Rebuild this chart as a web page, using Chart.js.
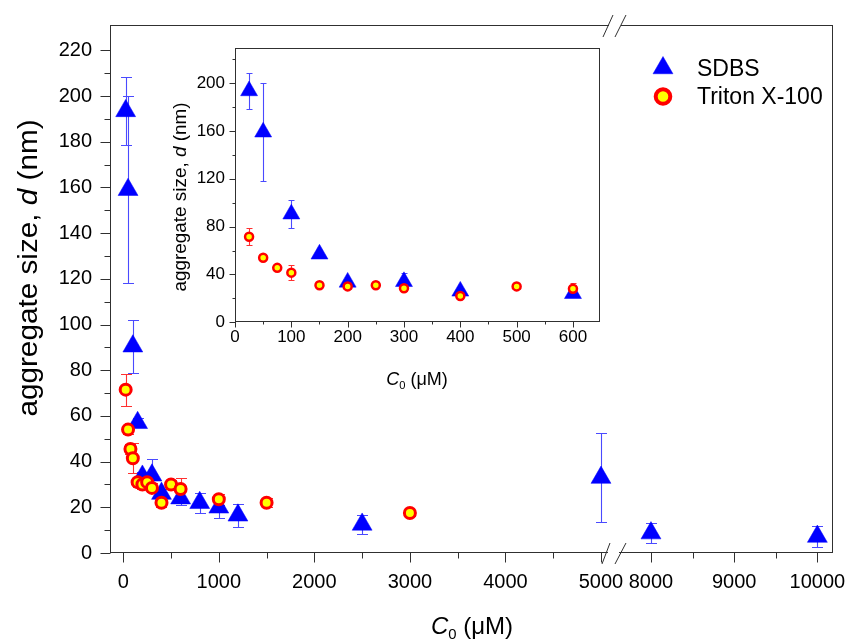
<!DOCTYPE html>
<html>
<head>
<meta charset="utf-8">
<script src="https://cdn.jsdelivr.net/npm/chart.js@4.4.0/dist/chart.umd.min.js"></script>
<style>
html,body{margin:0;padding:0;background:#fff;}
#wrap{position:relative;width:851px;height:642px;background:#fff;}
#wrap canvas{position:absolute;left:0;top:0;}
</style>
</head>
<body>
<div id="wrap">
<canvas id="mainChart" width="851" height="642"></canvas>
<canvas id="insetChart" width="851" height="642"></canvas>
</div>
<script>
// ---------------- data ----------------
const sdbsConc = [25, 50, 100, 150, 200, 300, 400, 600, 800, 1000, 1200, 2500, 5000, 8000, 10000];
const sdbsSize = [193.5, 159, 90.5, 57, 33.5, 34, 26, 24, 22, 20, 16.5, 12.5, 33, 8.7, 7.2];
const sdbsErr  = [15, 41, 11.5, 2, 2, 7, 2, 3, 4.4, 4.5, 5, 4, 19.5, 4.4, 4.5];

const tritonConc = [25, 50, 75, 100, 150, 200, 250, 300, 400, 500, 600, 1000, 1500, 3000];
const tritonSize = [71.5, 54, 45.5, 41.5, 31, 30, 31, 28.5, 22, 30, 28, 23.5, 22, 17.5];
const tritonErr  = [7, 2, 2, 6.5, 2, 2, 1.5, 2, 2, 2, 5, 2.5, 2, 1.5];

const seriesNames = ['SDBS', 'Triton X-100'];

const mainXTicks = [0, 1000, 2000, 3000, 4000, 5000, 8000, 9000, 10000];
const mainXMinor = [500, 1500, 2500, 3500, 4500, 8500, 9500];
const mainYTicks = [0, 20, 40, 60, 80, 100, 120, 140, 160, 180, 200, 220];
const mainYMinor = [10, 30, 50, 70, 90, 110, 130, 150, 170, 190, 210];

const insetXTicks = [0, 100, 200, 300, 400, 500, 600];
const insetXMinor = [50, 150, 250, 350, 450, 550];
const insetYTicks = [0, 40, 80, 120, 160, 200];
const insetYMinor = [20, 60, 100, 140, 180, 220];
const insetMaxConc = 600;

const yTitleParts = [{text: 'aggregate size, '}, {text: 'd', italic: true}, {text: ' (nm)'}];
const xTitleParts = [{text: 'C', italic: true}, {text: '0', scale: 0.62, dy: 0.22}, {text: ' (\u03bcM)'}];

// ---------------- broken x scale ----------------
// piecewise mapping: [value range] -> [fraction of axis width]
const X_SEGMENTS = [
  {d0: -139, d1: 5000, r0: 0, r1: 0.6791},
  {d0: 5000, d1: 7700, r0: 0.6791, r1: 0.7137},
  {d0: 7700, d1: 10188, r0: 0.7137, r1: 1}
];
class BrokenLinearScale extends Chart.LinearScale {
  getPixelForValue(value) {
    if (value === null || value === undefined || isNaN(value)) return NaN;
    let seg = X_SEGMENTS[0];
    for (const s of X_SEGMENTS) { if (value >= s.d0) seg = s; }
    const f = seg.r0 + (value - seg.d0) / (seg.d1 - seg.d0) * (seg.r1 - seg.r0);
    return this.getPixelForDecimal(f);
  }
  getValueForPixel(pixel) {
    const f = this.getDecimalForPixel(pixel);
    let seg = X_SEGMENTS[0];
    for (const s of X_SEGMENTS) { if (f >= s.r0) seg = s; }
    return seg.d0 + (f - seg.r0) / (seg.r1 - seg.r0) * (seg.d1 - seg.d0);
  }
}
BrokenLinearScale.id = 'brokenLinear';
BrokenLinearScale.defaults = Chart.LinearScale.defaults;
Chart.register(BrokenLinearScale);

// ---------------- helpers ----------------
const FONT = '"Liberation Sans", Arial, Helvetica, sans-serif';
const AXIS_COLOR = '#303030';

function drawRichText(ctx, parts, cx, cy, rotate, size, stretch) {
  ctx.save();
  ctx.translate(cx, cy);
  if (rotate) ctx.rotate(-Math.PI / 2);
  if (stretch) ctx.scale(stretch, 1);
  let total = 0;
  const meas = parts.map(p => {
    const s = size * (p.scale || 1);
    const f = (p.italic ? 'italic ' : '') + s + 'px ' + FONT;
    ctx.font = f;
    const w = ctx.measureText(p.text).width;
    total += w;
    return {f, w};
  });
  let x = -total / 2;
  ctx.textAlign = 'left';
  ctx.textBaseline = 'alphabetic';
  ctx.fillStyle = '#000';
  const base = size * 0.358;
  parts.forEach((p, i) => {
    ctx.font = meas[i].f;
    ctx.fillText(p.text, x, base + (p.dy || 0) * size);
    x += meas[i].w;
  });
  ctx.restore();
}

function drawErrorBars(chart, capHalf) {
  const {ctx, scales: {x, y}} = chart;
  ctx.save();
  chart.data.datasets.forEach(ds => {
    if (!ds.errorBars) return;
    ctx.strokeStyle = ds.errorColor;
    ctx.lineWidth = 1.1;
    ds.data.forEach((pt, i) => {
      const e = ds.errorBars[i];
      const px = Math.round(x.getPixelForValue(pt.x)) + 0.5;
      const yt = Math.round(y.getPixelForValue(pt.y + e)) + 0.5;
      const yb = Math.round(y.getPixelForValue(pt.y - e)) + 0.5;
      ctx.beginPath();
      ctx.moveTo(px, yt); ctx.lineTo(px, yb);
      ctx.moveTo(px - capHalf, yt); ctx.lineTo(px + capHalf, yt);
      ctx.moveTo(px - capHalf, yb); ctx.lineTo(px + capHalf, yb);
      ctx.stroke();
    });
  });
  ctx.restore();
}

function makeDecor(cfg) {
  return {
    id: 'decor',
    beforeDatasetsDraw(chart) { drawErrorBars(chart, cfg.capHalf); },
    afterDraw(chart) {
      const {ctx, chartArea: a, scales: {x, y}} = chart;
      const L = Math.round(a.left) + 0.5, R = Math.round(a.right) - 0.5;
      const T = Math.round(a.top) + 0.5, B = Math.round(a.bottom) - 0.5;
      ctx.save();
      ctx.strokeStyle = AXIS_COLOR;
      ctx.lineWidth = 1;
      ctx.strokeRect(L, T, R - L, B - T);
      ctx.beginPath();
      cfg.xMajor.forEach(v => { const p = Math.round(x.getPixelForValue(v)) + 0.5; ctx.moveTo(p, B); ctx.lineTo(p, B + cfg.majorLen); });
      cfg.xMinor.forEach(v => { const p = Math.round(x.getPixelForValue(v)) + 0.5; ctx.moveTo(p, B); ctx.lineTo(p, B + cfg.minorLen); });
      cfg.yMajor.forEach(v => { const p = Math.round(y.getPixelForValue(v)) + 0.5; ctx.moveTo(L, p); ctx.lineTo(L - cfg.majorLen, p); });
      cfg.yMinor.forEach(v => { const p = Math.round(y.getPixelForValue(v)) + 0.5; ctx.moveTo(L, p); ctx.lineTo(L - cfg.minorLen, p); });
      ctx.stroke();
      ctx.restore();
      if (cfg.extra) cfg.extra(chart);
      drawRichText(ctx, yTitleParts, cfg.yTitle.x, cfg.yTitle.y, true, cfg.yTitle.size, cfg.yTitle.stretch);
      drawRichText(ctx, xTitleParts, cfg.xTitle.x, cfg.xTitle.y, false, cfg.xTitle.size, cfg.xTitle.stretch);
    }
  };
}

function buildDatasets(maxConc, triR, circR, circBW) {
  const sd = [], se = [], td = [], te = [];
  sdbsConc.forEach((c, i) => { if (c <= maxConc) { sd.push({x: c, y: sdbsSize[i]}); se.push(sdbsErr[i]); } });
  tritonConc.forEach((c, i) => { if (c <= maxConc) { td.push({x: c, y: tritonSize[i]}); te.push(tritonErr[i]); } });
  return [
    {label: seriesNames[0], data: sd, errorBars: se, errorColor: '#4a4aff',
     pointStyle: 'triangle', pointRadius: triR, pointHoverRadius: triR,
     backgroundColor: '#0000ff', borderColor: '#0000ff', borderWidth: 0.5,
     showLine: false, order: 1, clip: false},
    {label: seriesNames[1], data: td, errorBars: te, errorColor: '#ff3030',
     pointStyle: 'circle', pointRadius: circR, pointHoverRadius: circR,
     backgroundColor: '#ffff00', borderColor: '#ff0000', borderWidth: circBW,
     showLine: false, order: 0, clip: false}
  ];
}

function tickSetter(values) { return s => { s.ticks = values.map(v => ({value: v})); }; }
function fitter(prop, size) {
  return s => { s[prop] = size; s.paddingTop = 0; s.paddingBottom = 0; s.paddingLeft = 0; s.paddingRight = 0; };
}

// ---------------- main chart ----------------
const mainLegend = chart => {
  const {ctx, scales: {x}} = chart;
  // axis break marks
  const p = x.getPixelForValue(5000);
  const a = chart.chartArea;
  ctx.save();
  ctx.fillStyle = '#fff';
  ctx.fillRect(p + 7, a.bottom - 3, 11, 5);
  ctx.fillRect(p + 8, a.top - 2, 12, 4);
  ctx.strokeStyle = AXIS_COLOR;
  ctx.lineWidth = 1;
  ctx.beginPath();
  ctx.moveTo(p + 1, a.bottom + 11); ctx.lineTo(p + 9, a.bottom - 10);
  ctx.moveTo(p + 14, a.bottom + 11); ctx.lineTo(p + 25, a.bottom - 10);
  ctx.moveTo(p + 2, a.top + 12); ctx.lineTo(p + 12, a.top - 10);
  ctx.moveTo(p + 14, a.top + 12); ctx.lineTo(p + 25, a.top - 10);
  ctx.stroke();
  // legend
  const ds = chart.data.datasets;
  const items = [{y: 68, ds: ds[0], r: 11.5, bw: 0.5}, {y: 96.5, ds: ds[1], r: 7.3, bw: 4}];
  items.forEach(it => {
    ctx.fillStyle = it.ds.backgroundColor;
    ctx.strokeStyle = it.ds.borderColor;
    ctx.lineWidth = it.bw;
    Chart.helpers.drawPoint(ctx, {pointStyle: it.ds.pointStyle, radius: it.r, rotation: 0, borderWidth: it.bw}, 663, it.y);
    ctx.fillStyle = '#000';
    ctx.font = '23px ' + FONT;
    ctx.textAlign = 'left';
    ctx.textBaseline = 'alphabetic';
    ctx.fillText(it.ds.label, 697, it.y + 22 * 0.358);
  });
  ctx.restore();
};

new Chart(document.getElementById('mainChart'), {
  type: 'scatter',
  data: {datasets: buildDatasets(Infinity, 11.5, 5.5, 3)},
  options: {
    responsive: false, animation: false,
    layout: {padding: {left: 0, top: 25, right: 18, bottom: 0}},
    plugins: {legend: {display: false}, tooltip: {enabled: false}},
    scales: {
      x: {
        type: 'brokenLinear', min: -139, max: 10188,
        afterBuildTicks: tickSetter(mainXTicks),
        afterFit: fitter('height', 89),
        grid: {display: false, drawTicks: false}, border: {display: false},
        ticks: {autoSkip: false, maxRotation: 0, padding: 17, color: '#000',
                font: {family: FONT, size: 20, lineHeight: 1.2}, callback: v => String(v)}
      },
      y: {
        type: 'linear', min: 0, max: 231.1,
        afterBuildTicks: tickSetter(mainYTicks),
        afterFit: fitter('width', 110),
        grid: {display: false, drawTicks: false}, border: {display: false},
        ticks: {autoSkip: false, padding: 18, color: '#000',
                font: {family: FONT, size: 20, lineHeight: 1.2}, callback: v => String(v)}
      }
    }
  },
  plugins: [makeDecor({capHalf: 5.5, majorLen: 10, minorLen: 6,
    xMajor: mainXTicks, xMinor: mainXMinor, yMajor: mainYTicks, yMinor: mainYMinor,
    yTitle: {x: 27, y: 268, size: 27, stretch: 1.1}, xTitle: {x: 472, y: 625, size: 24},
    extra: mainLegend})]
});

// ---------------- inset chart ----------------
new Chart(document.getElementById('insetChart'), {
  type: 'scatter',
  data: {datasets: buildDatasets(insetMaxConc, 9.8, 4, 2.5)},
  options: {
    responsive: false, animation: false,
    layout: {padding: {left: 155, top: 48, right: 251, bottom: 259.7}},
    plugins: {legend: {display: false}, tooltip: {enabled: false}},
    scales: {
      x: {
        type: 'linear', min: 0, max: 648,
        afterBuildTicks: tickSetter(insetXTicks),
        afterFit: fitter('height', 60),
        grid: {display: false, drawTicks: false}, border: {display: false},
        ticks: {autoSkip: false, maxRotation: 0, padding: 5, color: '#000',
                font: {family: FONT, size: 17, lineHeight: 1.2}, callback: v => String(v)}
      },
      y: {
        type: 'linear', min: 0, max: 229.3,
        afterBuildTicks: tickSetter(insetYTicks),
        afterFit: fitter('width', 80),
        grid: {display: false, drawTicks: false}, border: {display: false},
        ticks: {autoSkip: false, padding: 10, color: '#000',
                font: {family: FONT, size: 17, lineHeight: 1.2}, callback: v => String(v)}
      }
    }
  },
  plugins: [makeDecor({capHalf: 3, majorLen: 6, minorLen: 3,
    xMajor: insetXTicks, xMinor: insetXMinor, yMajor: insetYTicks, yMinor: insetYMinor,
    yTitle: {x: 180, y: 197, size: 18, stretch: 1.05}, xTitle: {x: 417, y: 379, size: 18}})]
});
</script>
</body>
</html>
